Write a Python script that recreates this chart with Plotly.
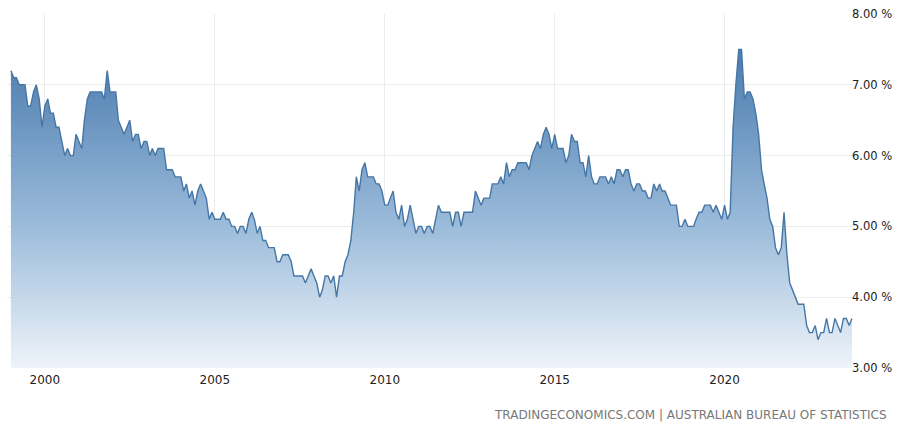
import pandas as pd
import plotly.graph_objects as go

start_month = "1999-01-01"
rate = [
    7.2, 7.1, 7.1, 7.0, 7.0, 7.0, 6.7, 6.7, 6.9, 7.0,
    6.8, 6.4, 6.7, 6.8, 6.6, 6.6, 6.4, 6.4, 6.2, 6.0,
    6.1, 6.0, 6.0, 6.3, 6.2, 6.1, 6.5, 6.8, 6.9, 6.9,
    6.9, 6.9, 6.9, 6.8, 7.2, 6.9, 6.9, 6.9, 6.5, 6.4,
    6.3, 6.4, 6.5, 6.2, 6.3, 6.3, 6.1, 6.2, 6.2, 6.0,
    6.1, 6.0, 6.1, 6.1, 6.1, 5.8, 5.8, 5.8, 5.7, 5.7,
    5.7, 5.5, 5.6, 5.4, 5.5, 5.3, 5.5, 5.6, 5.5, 5.4,
    5.1, 5.2, 5.1, 5.1, 5.1, 5.2, 5.1, 5.1, 5.0, 5.0,
    4.9, 5.0, 5.0, 4.9, 5.1, 5.2, 5.1, 4.9, 5.0, 4.8,
    4.8, 4.7, 4.7, 4.7, 4.5, 4.5, 4.6, 4.6, 4.6, 4.5,
    4.3, 4.3, 4.3, 4.3, 4.2, 4.3, 4.4, 4.3, 4.2, 4.0,
    4.1, 4.3, 4.3, 4.2, 4.3, 4.0, 4.3, 4.3, 4.5, 4.6,
    4.8, 5.2, 5.7, 5.5, 5.8, 5.9, 5.7, 5.7, 5.7, 5.6,
    5.6, 5.5, 5.3, 5.3, 5.4, 5.5, 5.2, 5.1, 5.3, 5.0,
    5.1, 5.3, 5.1, 4.9, 5.0, 5.0, 4.9, 5.0, 5.0, 4.9,
    5.1, 5.3, 5.2, 5.2, 5.2, 5.2, 5.0, 5.2, 5.2, 5.0,
    5.2, 5.2, 5.2, 5.2, 5.5, 5.4, 5.3, 5.4, 5.4, 5.4,
    5.6, 5.6, 5.6, 5.7, 5.6, 5.9, 5.7, 5.8, 5.8, 5.9,
    5.9, 5.9, 5.9, 5.8, 6.0, 6.1, 6.2, 6.1, 6.3, 6.4,
    6.3, 6.1, 6.3, 6.1, 6.1, 6.1, 5.9, 6.0, 6.3, 6.2,
    6.2, 5.9, 5.9, 5.7, 6.0, 5.7, 5.6, 5.6, 5.7, 5.7,
    5.7, 5.6, 5.7, 5.6, 5.8, 5.8, 5.7, 5.8, 5.8, 5.6,
    5.5, 5.6, 5.6, 5.5, 5.5, 5.4, 5.4, 5.6, 5.5, 5.6,
    5.5, 5.5, 5.4, 5.3, 5.3, 5.3, 5.0, 5.0, 5.1, 5.0,
    5.0, 5.0, 5.1, 5.2, 5.2, 5.3, 5.3, 5.3, 5.2, 5.3,
    5.2, 5.1, 5.3, 5.1, 5.2, 6.4, 7.0, 7.5, 7.5, 6.8,
    6.9, 6.9, 6.8, 6.6, 6.3, 5.8, 5.6, 5.4, 5.1, 5.0,
    4.7, 4.6, 4.7, 5.2, 4.6, 4.2, 4.1, 4.0, 3.9, 3.9,
    3.9, 3.6, 3.5, 3.5, 3.6, 3.4, 3.5, 3.5, 3.7, 3.5,
    3.5, 3.7, 3.6, 3.5, 3.7, 3.7, 3.6, 3.7,
]
dates = pd.date_range(start_month, periods=len(rate), freq="MS")
y_ticks = [3, 4, 5, 6, 7, 8]
y_tick_labels = ["3.00 %", "4.00 %", "5.00 %", "6.00 %", "7.00 %", "8.00 %"]
source_text = "TRADINGECONOMICS.COM | AUSTRALIAN BUREAU OF STATISTICS"

fig = go.Figure()
fig.add_trace(go.Scatter(
    x=dates, y=rate, mode="lines",
    line=dict(color="#4676a6", width=1.4),
    fill="tozeroy",
    fillgradient=dict(
        type="vertical", start=3, stop=7.6,
        colorscale=[[0, "rgb(242,246,251)"], [0.45, "rgb(155,187,218)"], [1, "rgb(70,120,172)"]],
    ),
    hoverinfo="skip",
))

fig.update_layout(
    width=900, height=424,
    margin=dict(l=7, r=47, t=8, b=56),
    paper_bgcolor="white", plot_bgcolor="white",
    showlegend=False,
    font=dict(family="DejaVu Sans", size=12, color="#222"),
    xaxis=dict(
        type="date",
        range=["1998-11-20", "2023-10-12"],
        tick0="2000-01-01", dtick="M60", tickformat="%Y",
        showgrid=True, gridcolor="#ececec", gridwidth=1,
        zeroline=False, showline=False, ticks="",
        ticklabelstandoff=3,
        tickfont=dict(size=12, color="#222"),
    ),
    yaxis=dict(
        side="right", range=[3, 8],
        tickvals=y_ticks, ticktext=y_tick_labels,
        showgrid=True, gridcolor="#ececec", gridwidth=1,
        zeroline=False, showline=False, ticks="",
        ticklabelstandoff=-2,
        tickfont=dict(size=11.5, color="#222"),
    ),
    annotations=[dict(
        text=source_text, xref="paper", yref="paper",
        x=1.042, y=-0.133, xanchor="right", yanchor="middle",
        showarrow=False, font=dict(size=12, color="#777", family="DejaVu Sans"),
    )],
)

fig.write_html(
    "out.html",
    config={"displayModeBar": False},
    post_script="document.body.style.margin='0';document.body.style.padding='0';document.body.style.overflow='hidden';",
)
